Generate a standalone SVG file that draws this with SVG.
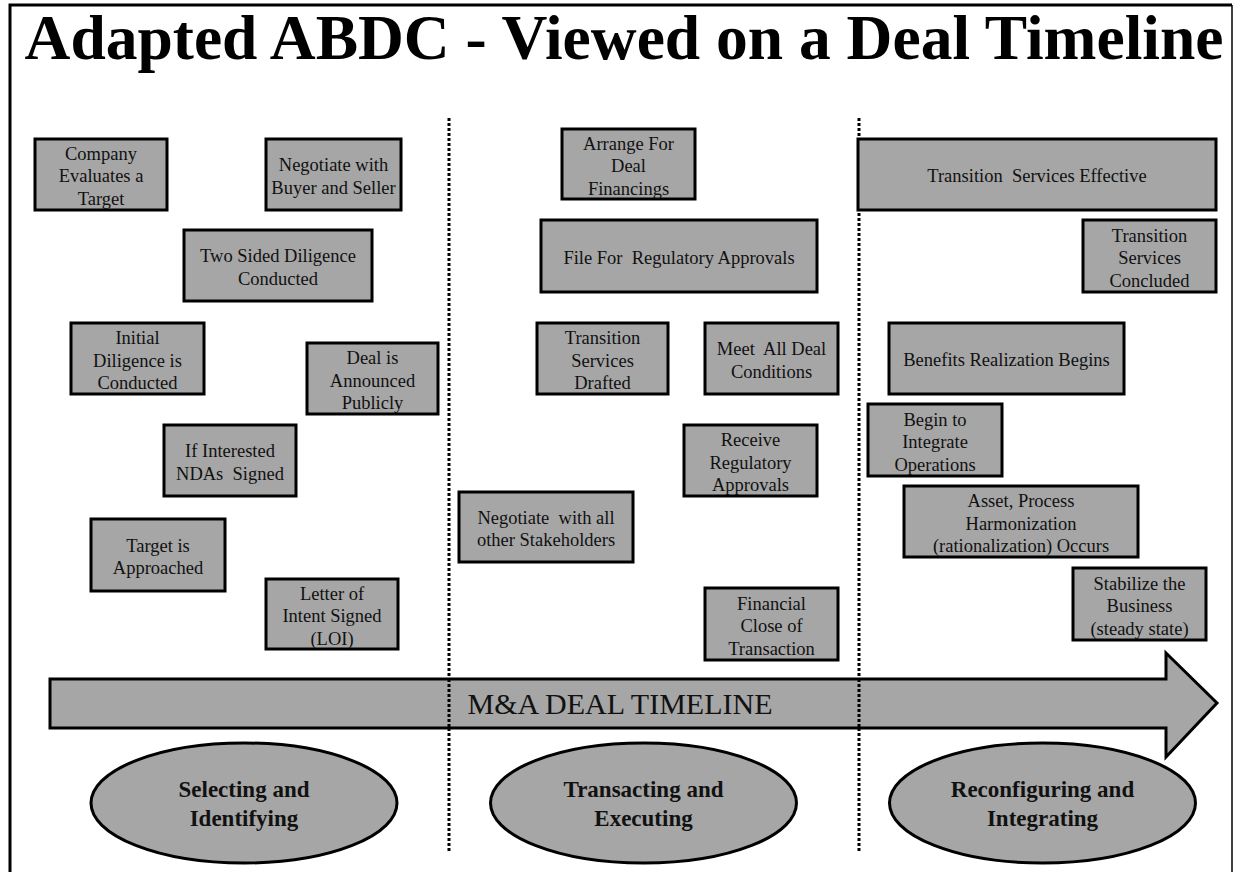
<svg xmlns="http://www.w3.org/2000/svg" width="1236" height="872" viewBox="0 0 1236 872">
<style>
.box{fill:#a6a6a6;stroke:#000;stroke-width:3}
.bt{font-family:"Liberation Serif","Times New Roman",serif;font-size:18.5px;fill:#111;text-anchor:middle;white-space:pre}
.et{font-family:"Liberation Serif","Times New Roman",serif;font-size:23px;font-weight:bold;fill:#111;text-anchor:middle}
.div{stroke:#000;stroke-width:3;stroke-dasharray:3 2;fill:none}
</style>
<rect width="1236" height="872" fill="#fff"/>
<path d="M10,872 V5 H1232" fill="none" stroke="#000" stroke-width="3"/>
<path d="M1232,5 V872" fill="none" stroke="#000" stroke-width="1.5"/>
<text x="624" y="59" font-family="Liberation Serif,'Times New Roman',serif" font-size="63.5" font-weight="bold" text-anchor="middle" fill="#000">Adapted ABDC - Viewed on a Deal Timeline</text>

<g id="dividers">
<line class="div" x1="449" y1="118" x2="449" y2="851"/>
<line class="div" x1="859" y1="118" x2="859" y2="851"/>
</g>

<g id="timeline">
<polygon points="50,679 1166,679 1166,653 1217,703 1166,757 1166,728 50,728" fill="#a6a6a6" stroke="#000" stroke-width="3" stroke-linejoin="miter"/>
<text x="620" y="714" font-family="Liberation Serif,'Times New Roman',serif" font-size="30" text-anchor="middle" fill="#111">M&amp;A DEAL TIMELINE</text>
</g>
<g id="dividers-over">
<line class="div" x1="449" y1="679" x2="449" y2="728"/>
<line class="div" x1="859" y1="679" x2="859" y2="728"/>
</g>

<g id="n1"><rect class="box" x="35" y="139" width="132" height="71"/><text class="bt"><tspan x="101" y="159.5">Company</tspan><tspan x="101" y="182">Evaluates a</tspan><tspan x="101" y="204.5">Target</tspan></text></g>
<g id="n2"><rect class="box" x="266" y="139" width="135" height="71"/><text class="bt"><tspan x="333.5" y="171">Negotiate with</tspan><tspan x="333.5" y="194">Buyer and Seller</tspan></text></g>
<g id="n3"><rect class="box" x="184" y="230" width="188" height="71"/><text class="bt"><tspan x="278" y="262">Two Sided Diligence</tspan><tspan x="278" y="285">Conducted</tspan></text></g>
<g id="n4"><rect class="box" x="71" y="323" width="133" height="71"/><text class="bt"><tspan x="137.5" y="344">Initial</tspan><tspan x="137.5" y="366.5">Diligence is</tspan><tspan x="137.5" y="389">Conducted</tspan></text></g>
<g id="n5"><rect class="box" x="307" y="343" width="131" height="71"/><text class="bt"><tspan x="372.5" y="364">Deal is</tspan><tspan x="372.5" y="386.5">Announced</tspan><tspan x="372.5" y="409">Publicly</tspan></text></g>
<g id="n6"><rect class="box" x="164" y="425" width="132" height="71"/><text class="bt"><tspan x="230" y="457">If Interested</tspan><tspan x="230" y="479.5">NDAs  Signed</tspan></text></g>
<g id="n7"><rect class="box" x="91" y="519" width="134" height="72"/><text class="bt"><tspan x="158" y="551.5">Target is</tspan><tspan x="158" y="574">Approached</tspan></text></g>
<g id="n8"><rect class="box" x="266" y="579" width="132" height="70"/><text class="bt"><tspan x="332" y="599.5">Letter of</tspan><tspan x="332" y="622">Intent Signed</tspan><tspan x="332" y="644.5">(LOI)</tspan></text></g>

<g id="n9"><rect class="box" x="562" y="129" width="133" height="70"/><text class="bt"><tspan x="628.5" y="149.5">Arrange For</tspan><tspan x="628.5" y="172">Deal</tspan><tspan x="628.5" y="194.5">Financings</tspan></text></g>
<g id="n10"><rect class="box" x="541" y="220" width="276" height="72"/><text class="bt" x="679" y="264">File For  Regulatory Approvals</text></g>
<g id="n11"><rect class="box" x="537" y="323" width="131" height="71"/><text class="bt"><tspan x="602.5" y="344">Transition</tspan><tspan x="602.5" y="366.5">Services</tspan><tspan x="602.5" y="389">Drafted</tspan></text></g>
<g id="n12"><rect class="box" x="705" y="323" width="133" height="71"/><text class="bt"><tspan x="771.5" y="355">Meet  All Deal</tspan><tspan x="771.5" y="377.5">Conditions</tspan></text></g>
<g id="n13"><rect class="box" x="684" y="425" width="133" height="71"/><text class="bt"><tspan x="750.5" y="446">Receive</tspan><tspan x="750.5" y="468.5">Regulatory</tspan><tspan x="750.5" y="491">Approvals</tspan></text></g>
<g id="n14"><rect class="box" x="459" y="492" width="174" height="70"/><text class="bt"><tspan x="546" y="523.5">Negotiate  with all</tspan><tspan x="546" y="546">other Stakeholders</tspan></text></g>
<g id="n15"><rect class="box" x="705" y="588" width="133" height="72"/><text class="bt"><tspan x="771.5" y="609.5">Financial</tspan><tspan x="771.5" y="632">Close of</tspan><tspan x="771.5" y="654.5">Transaction</tspan></text></g>

<g id="n16"><rect class="box" x="858" y="139" width="358" height="71"/><text class="bt" x="1037" y="182">Transition  Services Effective</text></g>
<g id="n17"><rect class="box" x="1083" y="220" width="133" height="72"/><text class="bt"><tspan x="1149.5" y="241.5">Transition</tspan><tspan x="1149.5" y="264">Services</tspan><tspan x="1149.5" y="286.5">Concluded</tspan></text></g>
<g id="n18"><rect class="box" x="889" y="323" width="235" height="71"/><text class="bt" x="1006.5" y="366">Benefits Realization Begins</text></g>
<g id="n19"><rect class="box" x="868" y="404" width="134" height="72"/><text class="bt"><tspan x="935" y="425.5">Begin to</tspan><tspan x="935" y="448">Integrate</tspan><tspan x="935" y="470.5">Operations</tspan></text></g>
<g id="n20"><rect class="box" x="904" y="486" width="234" height="71"/><text class="bt"><tspan x="1021" y="507">Asset, Process</tspan><tspan x="1021" y="529.5">Harmonization</tspan><tspan x="1021" y="552">(rationalization) Occurs</tspan></text></g>
<g id="n21"><rect class="box" x="1073" y="568" width="133" height="72"/><text class="bt"><tspan x="1139.5" y="589.5">Stabilize the</tspan><tspan x="1139.5" y="612">Business</tspan><tspan x="1139.5" y="634.5">(steady state)</tspan></text></g>

<g id="phase1"><ellipse cx="244" cy="803" rx="153" ry="60" fill="#a6a6a6" stroke="#000" stroke-width="3"/><text class="et"><tspan x="244" y="797">Selecting and</tspan><tspan x="244" y="826">Identifying</tspan></text></g>
<g id="phase2"><ellipse cx="643.5" cy="803" rx="153" ry="60" fill="#a6a6a6" stroke="#000" stroke-width="3"/><text class="et"><tspan x="643.5" y="797">Transacting  and</tspan><tspan x="643.5" y="826">Executing</tspan></text></g>
<g id="phase3"><ellipse cx="1042.5" cy="803" rx="153" ry="60" fill="#a6a6a6" stroke="#000" stroke-width="3"/><text class="et"><tspan x="1042.5" y="797">Reconfiguring and</tspan><tspan x="1042.5" y="826">Integrating</tspan></text></g>
</svg>
